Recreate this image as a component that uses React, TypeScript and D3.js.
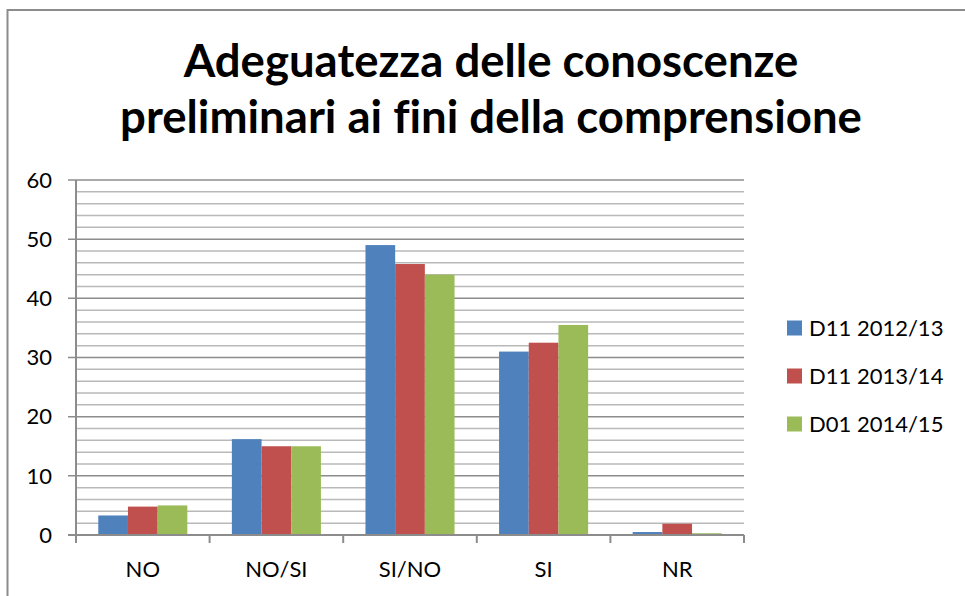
import React, { useEffect, useRef } from 'react';
import * as d3 from 'd3';

const categories = ['NO', 'NO/SI', 'SI/NO', 'SI', 'NR'];
const seriesNames = ['D11 2012/13', 'D11 2013/14', 'D01 2014/15'];
const values2012 = [3.3, 16.2, 49, 31, 0.5];
const values2013 = [4.8, 15, 45.8, 32.5, 1.9];
const values2014 = [5, 15, 44, 35.5, 0.3];
const seriesColors = ['#4F81BD', '#C0504D', '#9BBB59'];
const majorTicks = [0, 10, 20, 30, 40, 50, 60];
const minorTicks = d3.range(0, 61, 2);
const titleLines = ['Adeguatezza delle conoscenze', 'preliminari ai fini della comprensione'];

const FONT = 'Lato, "Open Sans", "DejaVu Sans", sans-serif';

export default function App() {
  const svgRef = useRef<SVGSVGElement>(null);

  useEffect(() => {
    document.body.style.margin = '0';
    if (!svgRef.current) return;
    const svg = d3.select(svgRef.current);
    svg.selectAll('*').remove();

    const width = 965;
    const height = 596;
    const margin = { left: 76, right: 744, top: 180, bottom: 535 };

    svg.append('rect').attr('width', width).attr('height', height).attr('fill', '#fff');

    // outer chart border (runs off the right and bottom)
    svg.append('rect')
      .attr('x', 7.5).attr('y', 10)
      .attr('width', width + 10).attr('height', height + 10)
      .attr('fill', 'none').attr('stroke', '#8c8c8c').attr('stroke-width', 2);

    const x = d3.scaleBand<string>().domain(categories).range([margin.left, margin.right]).paddingInner(0).paddingOuter(0);
    const xs = d3.scaleBand<string>().domain(seriesNames).range([0, x.bandwidth()]).paddingInner(0).paddingOuter(0.75);
    const y = d3.scaleLinear().domain([0, 60]).range([margin.bottom, margin.top]);

    // minor gridlines
    svg.append('g').selectAll('line')
      .data(minorTicks.filter(t => t % 10 !== 0))
      .enter().append('line')
      .attr('x1', margin.left).attr('x2', margin.right)
      .attr('y1', d => y(d)).attr('y2', d => y(d))
      .attr('stroke', '#b9b9b9').attr('stroke-width', 1.5);

    // major gridlines
    svg.append('g').selectAll('line')
      .data(majorTicks.filter(t => t > 0))
      .enter().append('line')
      .attr('x1', margin.left - 8).attr('x2', margin.right)
      .attr('y1', d => y(d)).attr('y2', d => y(d))
      .attr('stroke', '#8c8c8c').attr('stroke-width', 1.5);

    // bars
    const seriesData = [values2012, values2013, values2014];
    seriesNames.forEach((name, si) => {
      svg.append('g').selectAll('rect')
        .data(categories.map((c, i) => ({ c, v: seriesData[si][i] })))
        .enter().append('rect')
        .attr('x', d => (x(d.c) || 0) + (xs(name) || 0))
        .attr('y', d => y(d.v))
        .attr('width', xs.bandwidth())
        .attr('height', d => y(0) - y(d.v))
        .attr('fill', seriesColors[si]);
    });

    // axes
    svg.append('line')
      .attr('x1', margin.left).attr('x2', margin.left)
      .attr('y1', margin.top).attr('y2', margin.bottom)
      .attr('stroke', '#8c8c8c').attr('stroke-width', 2);
    svg.append('line')
      .attr('x1', margin.left - 8).attr('x2', margin.right)
      .attr('y1', y(0)).attr('y2', y(0))
      .attr('stroke', '#8c8c8c').attr('stroke-width', 2);

    svg.append('g').selectAll('text')
      .data(majorTicks)
      .enter().append('text')
      .attr('x', 52).attr('y', d => y(d))
      .attr('dy', '0.35em')
      .attr('text-anchor', 'end')
      .style('font-family', FONT).style('font-size', '22px').style('fill', '#000')
      .text(d => d);

    // x axis ticks at category boundaries
    const bounds = categories.map(c => x(c) || 0).concat([margin.right]);
    svg.append('g').selectAll('line')
      .data(bounds)
      .enter().append('line')
      .attr('x1', d => d).attr('x2', d => d)
      .attr('y1', y(0)).attr('y2', y(0) + 8)
      .attr('stroke', '#8c8c8c').attr('stroke-width', 2);

    svg.append('g').selectAll('text')
      .data(categories)
      .enter().append('text')
      .attr('x', d => (x(d) || 0) + x.bandwidth() / 2)
      .attr('y', 577)
      .attr('text-anchor', 'middle')
      .style('font-family', FONT).style('font-size', '22px').style('fill', '#000')
      .text(d => d);

    // legend
    const legendY = [328, 376, 424];
    seriesNames.forEach((name, i) => {
      svg.append('rect')
        .attr('x', 787).attr('y', legendY[i] - 7.5)
        .attr('width', 15).attr('height', 15)
        .attr('fill', seriesColors[i]);
      svg.append('text')
        .attr('x', 809).attr('y', legendY[i])
        .attr('dy', '0.36em')
        .style('font-family', FONT).style('font-size', '22px').style('fill', '#000')
        .text(name);
    });

    // title, sized so the second line spans the same width as the original
    const title = svg.append('text')
      .attr('text-anchor', 'middle')
      .style('font-family', FONT).style('font-weight', 'bold').style('font-size', '100px')
      .style('font-variant-ligatures', 'none').style('fill', '#000');
    const t2 = title.append('tspan').attr('x', 491).attr('y', 133).text(titleLines[1]);
    const w = (t2.node() as SVGTextContentElement).getComputedTextLength();
    const size = 100 * 742 / w;
    title.style('font-size', `${size}px`);
    title.insert('tspan', 'tspan').attr('x', 491).attr('y', 77).text(titleLines[0]);
  }, []);

  return <svg ref={svgRef} width={965} height={596} style={{ display: 'block' }} />;
}
